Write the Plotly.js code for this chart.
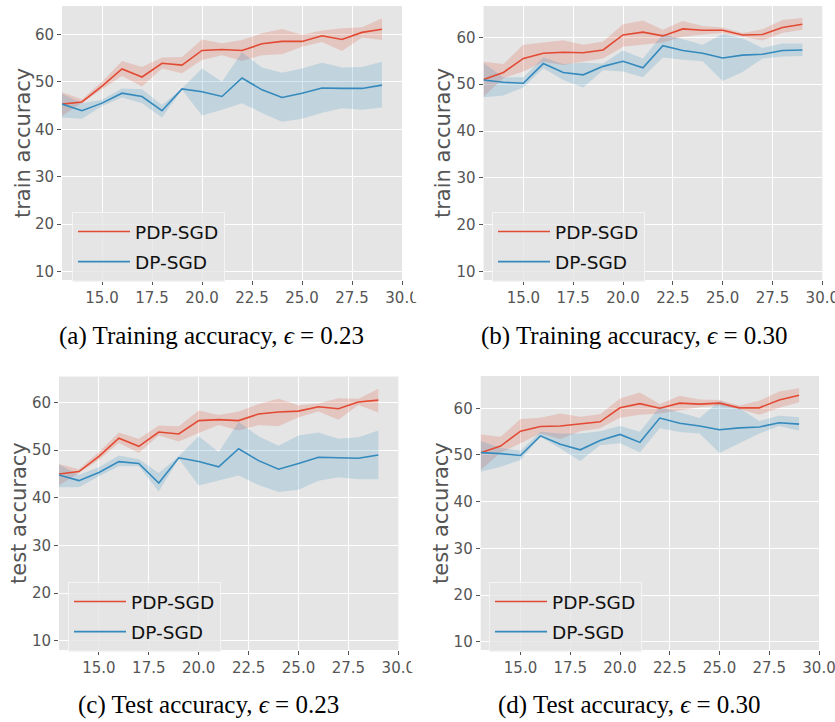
<!DOCTYPE html>
<html>
<head>
<meta charset="utf-8">
<script src="https://cdn.plot.ly/plotly-3.0.1.min.js"></script>
<style>
  html, body { margin: 0; padding: 0; background: #ffffff; }
  #chart { width: 835px; height: 722px; }
</style>
</head>
<body>
<div id="chart"></div>
<script>
// ---------------- data ----------------
const epochs = [13,14,15,16,17,18,19,20,21,22,23,24,25,26,27,28,29];

// (a) Training accuracy, eps = 0.23
const a_pdp   = [45.3,45.75,49.1,52.7,51.0,53.9,53.5,56.6,56.8,56.6,58.0,58.5,58.5,59.7,58.9,60.4,61.05];
const a_pdpHi = [47.8,46.3,50.0,54.4,53.1,55.1,55.2,58.9,58.1,58.8,60.2,61.1,59.9,60.8,61.3,61.5,63.4];
const a_pdpLo = [42.8,45.5,48.4,51.2,49.0,52.8,51.8,54.6,55.6,54.4,55.6,55.8,57.4,58.4,56.5,59.3,58.8];
const a_dp    = [45.3,43.9,45.5,47.6,46.9,43.9,48.5,47.9,46.9,50.8,48.3,46.7,47.6,48.7,48.6,48.6,49.3];
const a_dpHi  = [47.5,45.5,46.2,48.6,48.4,45.1,48.6,52.8,50.0,56.2,53.0,51.9,52.8,54.0,53.0,53.1,54.2];
const a_dpLo  = [42.5,42.2,44.9,46.7,45.5,42.5,48.3,42.9,44.1,45.5,43.4,41.6,42.2,43.5,44.4,44.1,44.6];

// (b) Training accuracy, eps = 0.30
const b_pdp   = [51.0,52.5,55.5,56.6,56.8,56.7,57.3,60.5,61.1,60.3,61.8,61.5,61.5,60.5,60.6,62.1,62.8];
const b_pdpHi = [54.8,54.3,58.4,58.9,59.4,58.4,59.1,62.8,63.6,61.6,63.5,62.4,62.1,60.9,61.7,63.7,64.1];
const b_pdpLo = [47.3,51.3,52.7,54.8,54.1,54.8,55.5,58.0,58.5,58.9,60.1,60.6,60.9,60.1,59.3,60.9,61.6];
const b_dp    = [50.9,50.4,50.2,54.4,52.5,52.0,53.8,54.9,53.5,58.2,57.2,56.6,55.6,56.2,56.4,57.2,57.3];
const b_dpHi  = [54.5,51.5,51.5,55.7,54.3,54.6,54.4,57.2,55.5,60.7,59.6,58.4,60.7,59.8,57.7,58.7,58.7];
const b_dpLo  = [47.2,47.6,49.3,53.4,50.9,49.3,53.0,52.7,51.5,55.7,55.2,54.9,50.7,52.6,55.5,55.9,56.0];

// (c) Test accuracy, eps = 0.23
const c_pdp   = [45.0,45.5,48.7,52.5,50.8,53.8,53.4,56.2,56.4,56.2,57.6,58.0,58.2,59.1,58.7,60.1,60.5];
const c_pdpHi = [47.1,46.0,49.6,53.7,52.4,55.2,55.0,58.3,57.4,58.1,59.7,60.8,59.4,59.8,60.9,60.8,62.9];
const c_pdpLo = [42.6,45.2,48.0,51.5,49.4,53.1,51.8,53.6,55.3,54.1,55.3,55.0,56.9,58.1,56.4,59.5,57.9];
const c_dp    = [44.8,43.6,45.3,47.6,47.2,43.1,48.4,47.6,46.5,50.3,47.8,46.0,47.2,48.5,48.4,48.3,49.0];
const c_dpHi  = [47.0,44.8,46.4,48.9,48.1,45.2,48.7,52.9,49.6,55.9,52.9,50.9,53.1,53.7,52.4,52.7,54.1];
const c_dpLo  = [42.2,42.2,44.5,46.6,46.6,41.3,48.2,42.6,43.6,44.7,42.7,41.2,41.7,43.6,44.3,43.9,43.9];

// (d) Test accuracy, eps = 0.30
const d_pdp   = [50.5,51.9,55.1,56.1,56.2,56.6,57.1,60.1,61.0,60.0,61.1,60.9,61.1,60.1,60.1,61.8,62.8];
const d_pdpHi = [54.4,53.9,57.7,58.0,58.9,58.2,58.7,62.1,63.4,60.9,62.7,61.9,61.8,60.6,61.6,63.6,64.3];
const d_pdpLo = [46.8,50.5,52.5,54.6,53.4,55.1,55.7,58.0,58.6,58.9,59.6,60.2,60.6,59.8,58.6,60.1,61.3];
const d_dp    = [50.5,50.3,49.9,54.1,52.3,51.1,53.1,54.4,52.7,57.9,56.8,56.2,55.4,55.8,56.0,56.9,56.6];
const d_dpHi  = [53.0,51.5,50.9,55.0,54.6,54.6,55.1,56.2,55.0,60.4,59.1,57.9,61.6,60.0,57.3,58.4,58.1];
const d_dpLo  = [46.4,47.5,48.9,53.9,51.4,48.7,52.1,52.5,50.6,55.7,54.9,54.6,50.4,52.5,54.6,56.2,55.2];

const seriesNames = ['PDP-SGD', 'DP-SGD'];
const yTitles = ['train accuracy', 'train accuracy', 'test accuracy', 'test accuracy'];
const captions = [
  '(a) Training accuracy, <i>ϵ</i> = 0.23',
  '(b) Training accuracy, <i>ϵ</i> = 0.30',
  '(c) Test accuracy, <i>ϵ</i> = 0.23',
  '(d) Test accuracy, <i>ϵ</i> = 0.30'
];
const xTickVals = [15, 17.5, 20, 22.5, 25, 27.5, 30];
const xTickText = ['15.0', '17.5', '20.0', '22.5', '25.0', '27.5', '30.0'];
const yTickVals = [10, 20, 30, 40, 50, 60];

// ---------------- layout geometry (pixels) ----------------
const W = 835, H = 722;
const panels = [
  {pdp:[a_pdp,a_pdpLo,a_pdpHi], dp:[a_dp,a_dpLo,a_dpHi], px:[62,402],    py:[6,280],     yr:[8.25,65.96], leg:[72,212],  yt:[23,143],  cap:[211.5,336]},
  {pdp:[b_pdp,b_pdpLo,b_pdpHi], dp:[b_dp,b_dpLo,b_dpHi], px:[483.5,822.3], py:[6,280],   yr:[8.23,66.68], leg:[492,212], yt:[443,143], cap:[634.5,336]},
  {pdp:[c_pdp,c_pdpLo,c_pdpHi], dp:[c_dp,c_dpLo,c_dpHi], px:[59,398.3],  py:[376.5,650], yr:[8.05,65.46], leg:[68,582],  yt:[19,513],  cap:[208,705]},
  {pdp:[d_pdp,d_pdpLo,d_pdpHi], dp:[d_dp,d_dpLo,d_dpHi], px:[480.7,819], py:[376,650],   yr:[8.22,66.92], leg:[489,582], yt:[441,513], cap:[629.5,705]}
];

const RED = '#E24A33', BLUE = '#348ABD';
const RED_FILL = 'rgba(226,74,51,0.2)', BLUE_FILL = 'rgba(52,138,189,0.2)';

const traces = [];
const layout = {
  width: W, height: H,
  margin: {l:0, r:0, t:0, b:0},
  paper_bgcolor: '#ffffff',
  showlegend: true,
  annotations: [],
  shapes: []
};

function band(xs, lo, hi, color, xa, ya) {
  const xx = xs.concat(xs.slice().reverse());
  const yy = hi.concat(lo.slice().reverse());
  return {x: xx, y: yy, type: 'scatter', mode: 'lines', fill: 'toself',
          fillcolor: color, line: {width: 0, color: 'rgba(0,0,0,0)'},
          hoverinfo: 'skip', showlegend: false, xaxis: xa, yaxis: ya};
}

panels.forEach((p, i) => {
  const n = i === 0 ? '' : String(i + 1);
  const xa = 'x' + n, ya = 'y' + n;
  const legName = 'legend' + n;
  traces.push(band(epochs, p.pdp[1], p.pdp[2], RED_FILL, xa, ya));
  traces.push(band(epochs, p.dp[1], p.dp[2], BLUE_FILL, xa, ya));
  traces.push({x: epochs, y: p.pdp[0], type: 'scatter', mode: 'lines', name: seriesNames[0],
               line: {color: RED, width: 1.6}, xaxis: xa, yaxis: ya, legend: legName,
               legendgroup: 'p' + i + 'a'});
  traces.push({x: epochs, y: p.dp[0], type: 'scatter', mode: 'lines', name: seriesNames[1],
               line: {color: BLUE, width: 1.6}, xaxis: xa, yaxis: ya, legend: legName,
               legendgroup: 'p' + i + 'b'});

  layout['xaxis' + n] = {
    domain: [p.px[0] / W, p.px[1] / W],
    anchor: ya, range: [13, 30],
    tickvals: xTickVals, ticktext: xTickText,
    ticks: 'outside', ticklen: 4, tickcolor: '#555555', tickwidth: 1,
    ticklabeloverflow: 'allow',
    tickfont: {family: 'DejaVu Sans', size: 15, color: '#555555'},
    showgrid: true, gridcolor: '#ffffff', gridwidth: 1,
    zeroline: false, showline: false, fixedrange: true
  };
  layout['yaxis' + n] = {
    domain: [1 - p.py[1] / H, 1 - p.py[0] / H],
    anchor: xa, range: p.yr,
    tickvals: yTickVals,
    ticks: 'outside', ticklen: 4, tickcolor: '#555555', tickwidth: 1,
    tickfont: {family: 'DejaVu Sans', size: 15, color: '#555555'},
    showgrid: true, gridcolor: '#ffffff', gridwidth: 1,
    zeroline: false, showline: false, fixedrange: true
  };
  layout[legName] = {
    x: p.leg[0] / W, y: 1 - p.leg[1] / H, xanchor: 'left', yanchor: 'top',
    xref: 'paper', yref: 'paper',
    traceorder: 'grouped', tracegroupgap: 3, itemwidth: 52,
    bgcolor: 'rgba(229,229,229,0.8)', bordercolor: 'rgba(245,245,245,0.9)', borderwidth: 1,
    font: {family: 'DejaVu Sans', size: 18.5, color: '#111111'}
  };
  // plot background
  layout.shapes.push({type: 'rect', xref: xa + ' domain', yref: ya + ' domain',
    x0: 0, x1: 1, y0: 0, y1: 1, fillcolor: '#E5E5E5', line: {width: 0}, layer: 'below'});
  // y axis title
  layout.annotations.push({text: yTitles[i], xref: 'paper', yref: 'paper',
    x: p.yt[0] / W, y: 1 - p.yt[1] / H, xanchor: 'center', yanchor: 'middle',
    textangle: -90, showarrow: false,
    font: {family: 'DejaVu Sans', size: 21, color: '#555555'}});
  // caption
  layout.annotations.push({text: captions[i], xref: 'paper', yref: 'paper',
    x: p.cap[0] / W, y: 1 - p.cap[1] / H, xanchor: 'center', yanchor: 'middle',
    showarrow: false,
    font: {family: 'Liberation Serif', size: 25, color: '#000000'}});
});

// the subfigure crop that cuts the last tick label of the left panels
layout.shapes.push({type: 'rect', xref: 'paper', yref: 'paper',
  x0: 413 / W, x1: 420 / W, y0: 1 - 302 / H, y1: 1 - 282 / H,
  fillcolor: '#ffffff', line: {width: 0}, layer: 'above'});
layout.shapes.push({type: 'rect', xref: 'paper', yref: 'paper',
  x0: 411 / W, x1: 420 / W, y0: 1 - 672 / H, y1: 1 - 652 / H,
  fillcolor: '#ffffff', line: {width: 0}, layer: 'above'});

Plotly.newPlot('chart', traces, layout, {staticPlot: true, displayModeBar: false});
</script>
</body>
</html>
